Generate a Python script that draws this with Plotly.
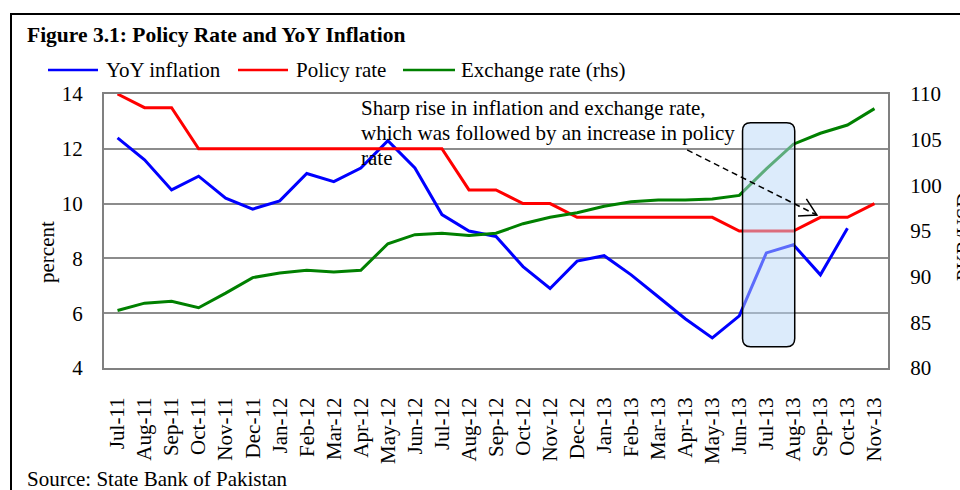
import plotly.graph_objects as go

# ---------------- data ----------------
months = ["Jul-11", "Aug-11", "Sep-11", "Oct-11", "Nov-11", "Dec-11",
          "Jan-12", "Feb-12", "Mar-12", "Apr-12", "May-12", "Jun-12",
          "Jul-12", "Aug-12", "Sep-12", "Oct-12", "Nov-12", "Dec-12",
          "Jan-13", "Feb-13", "Mar-13", "Apr-13", "May-13", "Jun-13",
          "Jul-13", "Aug-13", "Sep-13", "Oct-13", "Nov-13"]

yoy_inflation = [12.4, 11.6, 10.5, 11.0, 10.2, 9.8,
                 10.1, 11.1, 10.8, 11.3, 12.3, 11.3,
                 9.6, 9.0, 8.8, 7.7, 6.9, 7.9,
                 8.1, 7.4, 6.6, 5.8, 5.1, 5.9,
                 8.2, 8.5, 7.4, 9.1, None]

policy_rate = [14.0, 13.5, 13.5, 12.0, 12.0, 12.0,
               12.0, 12.0, 12.0, 12.0, 12.0, 12.0,
               12.0, 10.5, 10.5, 10.0, 10.0, 9.5,
               9.5, 9.5, 9.5, 9.5, 9.5, 9.0,
               9.0, 9.0, 9.5, 9.5, 10.0]

exchange_rate = [86.3, 87.1, 87.3, 86.6, 88.2, 89.9,
                 90.4, 90.7, 90.5, 90.7, 93.6, 94.6,
                 94.75, 94.5, 94.75, 95.8, 96.5, 97.0,
                 97.7, 98.2, 98.4, 98.4, 98.5, 98.9,
                 101.8, 104.5, 105.7, 106.6, 108.4]

left_ticks = [4, 6, 8, 10, 12, 14]
right_ticks = [80, 85, 90, 95, 100, 105, 110]

title_text = "Figure 3.1: Policy Rate and YoY Inflation"
source_text = "Source: State Bank of Pakistan"
note_lines = ["Sharp rise in inflation and exchange rate,",
              "which was followed by an increase in policy",
              "rate"]
series_names = ["YoY inflation", "Policy rate", "Exchange rate (rhs)"]
series_colors = ["#0000FF", "#FF0000", "#008000"]

# ---------------- layout geometry ----------------
W, H = 960, 490
L, R, T, B = 104, 72, 94, 122
PW, PH = W - L - R, H - T - B
FONT = "Liberation Serif, Times New Roman, serif"


def px(x):
    return (x - L) / PW


def py(y):
    return (H - B - y) / PH


xs = list(range(len(months)))

fig = go.Figure()
fig.add_trace(go.Scatter(x=xs, y=yoy_inflation, name=series_names[0], mode="lines",
                         line=dict(color=series_colors[0], width=3), yaxis="y"))
fig.add_trace(go.Scatter(x=xs, y=policy_rate, name=series_names[1], mode="lines",
                         line=dict(color=series_colors[1], width=3), yaxis="y"))
fig.add_trace(go.Scatter(x=xs, y=exchange_rate, name=series_names[2], mode="lines",
                         line=dict(color=series_colors[2], width=3), yaxis="y2"))

shapes = []
# outer frame
shapes.append(dict(type="rect", xref="paper", yref="paper",
                   x0=px(11), x1=px(975), y0=py(505), y1=py(14),
                   line=dict(color="black", width=2), fillcolor="rgba(0,0,0,0)",
                   layer="below"))

# highlighted window (Jun-13 .. Aug-13), rounded rectangle
bx0, bx1, by0, by1 = 23.12, 25.05, 4.78, 12.95
rx, ry = 0.3, 0.3
path = (f"M{bx0+rx},{by1} L{bx1-rx},{by1} Q{bx1},{by1} {bx1},{by1-ry} "
        f"L{bx1},{by0+ry} Q{bx1},{by0} {bx1-rx},{by0} "
        f"L{bx0+rx},{by0} Q{bx0},{by0} {bx0},{by0+ry} "
        f"L{bx0},{by1-ry} Q{bx0},{by1} {bx0+rx},{by1} Z")
shapes.append(dict(type="path", xref="x", yref="y", path=path,
                   fillcolor="rgba(185,215,248,0.5)",
                   line=dict(color="black", width=1.5), layer="above"))

# dashed arrow
ax0, ay0, ax1, ay1 = 21.07, 11.96, 25.87, 9.58
shapes.append(dict(type="line", xref="x", yref="y", x0=ax0, y0=ay0, x1=ax1, y1=ay1,
                   line=dict(color="black", width=1.5, dash="6px,4px"), layer="above"))
shapes.append(dict(type="path", xref="x", yref="y",
                   path=f"M25.48,10.17 L{ax1},{ay1} L25.17,9.55",
                   line=dict(color="black", width=1.5), layer="above"))

annotations = []
# legend (manual)
leg_y = py(70)
leg_items = [(48, 98, 105), (238, 288, 295), (403, 455, 460)]
for (l0, l1, tx), name, col in zip(leg_items, series_names, series_colors):
    shapes.append(dict(type="line", xref="paper", yref="paper",
                       x0=px(l0), x1=px(l1), y0=leg_y, y1=leg_y,
                       line=dict(color=col, width=2.5)))
    annotations.append(dict(xref="paper", yref="paper", x=px(tx), y=leg_y,
                            xanchor="left", yanchor="middle", showarrow=False,
                            text=name, font=dict(family=FONT, size=21, color="black"),
                            borderpad=0))

for i, line in enumerate(note_lines):
    annotations.append(dict(xref="paper", yref="paper", x=px(360), y=py(108 + 25 * i),
                            xanchor="left", yanchor="middle", showarrow=False,
                            text=line, font=dict(family=FONT, size=21, color="black"),
                            borderpad=0))

annotations += [
    dict(xref="paper", yref="paper", x=px(26), y=py(35), xanchor="left", yanchor="middle",
         showarrow=False, text=f"<b>{title_text}</b>",
         font=dict(family=FONT, size=21.5, color="black"), borderpad=0),
    dict(xref="paper", yref="paper", x=px(26), y=py(479), xanchor="left", yanchor="middle",
         showarrow=False, text=source_text,
         font=dict(family=FONT, size=21, color="black"), borderpad=0),
    dict(xref="paper", yref="paper", x=px(47), y=py(252), xanchor="center", yanchor="middle",
         showarrow=False, text="percent", textangle=-90,
         font=dict(family=FONT, size=21, color="black"), borderpad=0),
    dict(xref="paper", yref="paper", x=px(964), y=py(237), xanchor="center", yanchor="middle",
         showarrow=False, text="PKR/USD", textangle=-90,
         font=dict(family=FONT, size=21, color="black"), borderpad=0),
]

fig.update_layout(
    width=W, height=H, autosize=False,
    margin=dict(l=L, r=R, t=T, b=B, pad=0),
    paper_bgcolor="white", plot_bgcolor="white",
    showlegend=False,
    font=dict(family=FONT, size=21, color="black"),
    xaxis=dict(tickmode="array", tickvals=xs, ticktext=months, tickangle=-90,
               range=[-0.5, len(months) - 0.5], showgrid=False, zeroline=False,
               showline=True, linecolor="#808080", linewidth=2, mirror=True,
               ticks="outside", ticklen=19, tickcolor="rgba(0,0,0,0)",
               tickfont=dict(family=FONT, size=21, color="black"), automargin=False),
    yaxis=dict(range=[4, 14], tickvals=left_ticks, showgrid=True, gridcolor="#8c8c8c",
               gridwidth=1.5, zeroline=False, showline=True, linecolor="#808080",
               linewidth=2, mirror=True, ticks="outside", ticklen=15,
               tickcolor="rgba(0,0,0,0)",
               tickfont=dict(family=FONT, size=21, color="black"), automargin=False),
    yaxis2=dict(range=[80, 110], tickvals=right_ticks, overlaying="y", side="right",
                showgrid=False, zeroline=False, showline=False, ticks="outside",
                ticklen=17, tickcolor="rgba(0,0,0,0)",
                tickfont=dict(family=FONT, size=21, color="black"), automargin=False),
    shapes=shapes,
    annotations=annotations,
)

fig.write_html("out.html", config={"displayModeBar": False},
               post_script="document.body.style.margin='0';document.body.style.overflow='hidden';")
